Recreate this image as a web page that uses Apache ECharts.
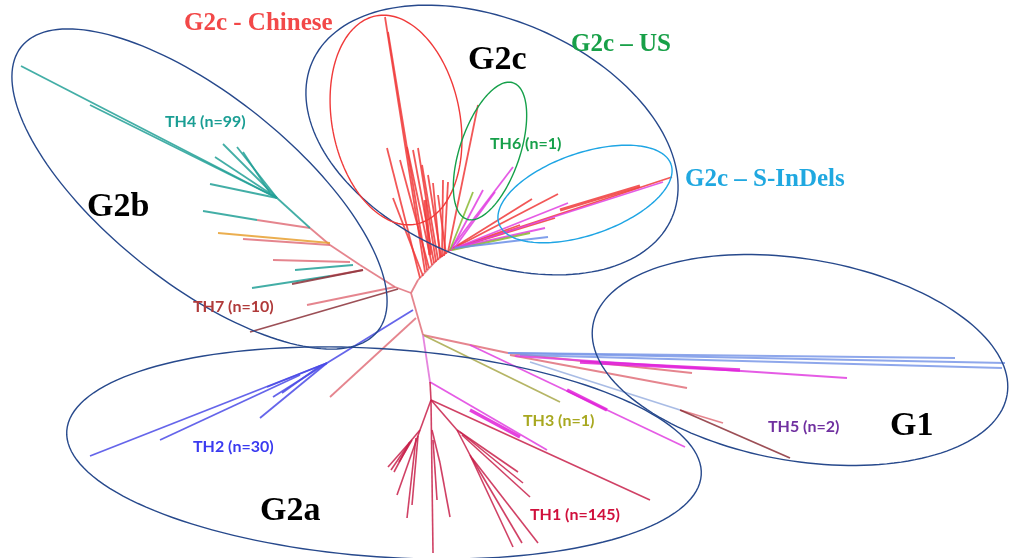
<!DOCTYPE html>
<html>
<head>
<meta charset="utf-8">
<script src="https://cdn.jsdelivr.net/npm/echarts@6/dist/echarts.min.js"></script>
<style>
  html, body { margin: 0; background: #fff; }
  #main { width: 1009px; height: 558px; }
</style>
</head>
<body>
<div id="main"></div>
<script>
// branch segments [x1, y1, x2, y2], grouped by clade colour
var trunk = [
    [411, 293, 395, 287], [395, 287, 360, 265], [360, 265, 330, 245], [330, 245, 310, 228],
    [411, 293, 418, 280], [418, 280, 437, 260], [437, 260, 450, 250],
    [411, 293, 423, 335], [416, 318, 330, 397], [423, 335, 508, 353],
    [395, 287, 307, 305], [350, 262, 273, 260], [330, 245, 243, 239], [310, 228, 257, 220],
    [363, 270, 330, 276], [508, 353, 692, 373], [510, 355, 687, 388],
    [680, 410, 723, 423]
];
var teal = [
    [310, 228, 277, 198], [277, 198, 21, 66], [277, 198, 90, 105], [277, 198, 223, 144],
    [277, 198, 237, 147], [277, 198, 215, 157], [270, 193, 243, 152], [277, 198, 210, 184],
    [257, 220, 203, 211], [330, 276, 252, 288], [353, 265, 295, 270]
];
var brown = [[398, 289, 250, 332], [363, 270, 292, 284], [680, 410, 790, 458]];
var orange = [[330, 243, 218, 233]];
var g2cRed = [
    [425, 272, 385, 17], [427, 270, 388, 32], [420, 278, 387, 148], [423, 276, 393, 198],
    [432, 265, 407, 147], [434, 263, 413, 150], [436, 262, 418, 148], [438, 260, 422, 165],
    [440, 258, 433, 183], [442, 257, 443, 180], [444, 256, 448, 182], [446, 254, 438, 195],
    [448, 252, 478, 105], [450, 250, 558, 194], [450, 250, 532, 199], [450, 250, 555, 218],
    [450, 250, 672, 177], [450, 250, 520, 225], [429, 268, 400, 160], [441, 257, 428, 175]
];
var g2cMagenta = [
    [450, 250, 513, 167], [452, 248, 483, 190], [455, 247, 495, 192],
    [450, 250, 663, 182], [450, 250, 568, 203], [455, 248, 545, 228]
];
var g2cGreen = [[450, 250, 473, 192], [452, 250, 530, 233]];
var g2cBlue = [[455, 248, 548, 237]];
var th2Blue = [
    [413, 310, 327, 363], [327, 363, 90, 456], [327, 363, 267, 387], [300, 375, 160, 440],
    [327, 363, 260, 418], [327, 363, 273, 397], [320, 366, 282, 393]
];
var g1Blue = [[508, 353, 955, 358], [508, 353, 1005, 363], [520, 355, 1002, 368]];
var lightBlue = [[530, 362, 680, 410]];
var magenta = [[470, 345, 685, 447], [515, 356, 847, 378], [430, 382, 547, 450]];
var olive = [[423, 335, 560, 402]];
var pinkTrunk = [[423, 335, 430, 382]];
var th1 = [
    [430, 382, 431, 400],
    [431, 400, 420, 430], [420, 430, 410, 442], [410, 442, 388, 467], [410, 442, 391, 470],
    [410, 442, 394, 472], [412, 440, 399, 462], [420, 430, 397, 495], [418, 436, 412, 505],
    [416, 438, 407, 518],
    [431, 400, 433, 553], [432, 430, 440, 463], [440, 463, 450, 517], [433, 440, 437, 500],
    [431, 400, 457, 430], [457, 430, 518, 472], [460, 432, 523, 483], [462, 435, 530, 497],
    [457, 430, 470, 455], [470, 455, 513, 547], [470, 455, 522, 543], [472, 458, 538, 543],
    [431, 400, 650, 500]
];
// heavier stretches where many tips overlap
var thickRed = [[560, 210, 640, 186], [425, 200, 430, 255]];
var thickMagenta = [[580, 362, 740, 370], [567, 390, 607, 410], [470, 410, 520, 437]];

// ellipses [cx, cy, semi-major, semi-minor, tilt in degrees]
var ellipses = [
    [199.5, 189, 228, 94, 38.6],
    [492, 140, 196, 120, 23.4],
    [396, 120, 106, 64, 79.2],
    [490, 151, 72, 30, -71.2],
    [585, 194, 91, 41, -19],
    [800, 360, 210, 101, 9.5],
    [384, 453, 318, 104, 4]
];
var ellipseColors = ['#27498c', '#27498c', '#f03a3a', '#15a04a', '#1ea5e4', '#27498c', '#27498c'];

var labelText = [
    'G2c - Chinese', 'G2c \u2013 US', 'G2c \u2013 S-InDels',
    'G2c', 'G2b', 'G2a', 'G1',
    'TH4 (n=99)', 'TH6 (n=1)', 'TH7 (n=10)', 'TH2 (n=30)', 'TH3 (n=1)', 'TH1 (n=145)', 'TH5 (n=2)'
];
var labelPos = [
    [184, 24], [571, 45], [685, 180],
    [468, 60], [87, 207], [260, 511], [890, 426],
    [165, 122], [490, 144], [193, 307], [193, 447], [523, 421], [530, 515], [768, 427]
];
var labelColors = [
    '#f24848', '#18a048', '#20a8e0',
    '#000', '#000', '#000', '#000',
    '#1a9e94', '#16a04a', '#b03a3a', '#3a3af0', '#a8a820', '#d0103c', '#7030a0'
];

var groups = [
    { data: trunk, color: '#e0707a', width: 1.8 },
    { data: teal, color: '#22a096', width: 1.8 },
    { data: brown, color: '#8b3038', width: 1.8 },
    { data: orange, color: '#e8a030', width: 1.8 },
    { data: g2cRed, color: '#f03a3a', width: 1.8 },
    { data: g2cMagenta, color: '#e040e0', width: 1.8 },
    { data: g2cGreen, color: '#88b830', width: 1.8 },
    { data: g2cBlue, color: '#6a8ee8', width: 1.8 },
    { data: th2Blue, color: '#4a4ae6', width: 1.8 },
    { data: g1Blue, color: '#7a98e8', width: 1.8 },
    { data: lightBlue, color: '#9ab0e0', width: 1.8 },
    { data: magenta, color: '#e040e0', width: 1.8 },
    { data: olive, color: '#a8a84a', width: 1.8 },
    { data: pinkTrunk, color: '#e070d8', width: 1.8 },
    { data: th1, color: '#c8204a', width: 1.6 },
    { data: thickRed, color: '#f03a3a', width: 3.2 },
    { data: thickMagenta, color: '#e020d8', width: 3.5 }
];

function toLines(segs) {
    return segs.map(function (s) {
        return { coords: [[s[0], s[1]], [s[2], s[3]]] };
    });
}

var series = groups.map(function (g) {
    return {
        type: 'lines',
        coordinateSystem: 'cartesian2d',
        silent: true,
        z: 2,
        data: toLines(g.data),
        lineStyle: { color: g.color, width: g.width, opacity: 0.85 }
    };
});

// the clade rings
series.push({
    type: 'custom',
    coordinateSystem: 'cartesian2d',
    silent: true,
    z: 3,
    data: ellipses,
    renderItem: function (params, api) {
        var cx = api.value(0), cy = api.value(1), a = api.value(2), b = api.value(3);
        var th = api.value(4) * Math.PI / 180;
        var pts = [];
        for (var i = 0; i <= 160; i++) {
            var t = i / 160 * Math.PI * 2;
            var x = cx + a * Math.cos(th) * Math.cos(t) - b * Math.sin(th) * Math.sin(t);
            var y = cy + a * Math.sin(th) * Math.cos(t) + b * Math.cos(th) * Math.sin(t);
            pts.push(api.coord([x, y]));
        }
        return {
            type: 'polyline',
            shape: { points: pts },
            style: { fill: 'none', stroke: ellipseColors[params.dataIndex], lineWidth: 1.4 }
        };
    }
});

// labels
series.push({
    type: 'custom',
    coordinateSystem: 'cartesian2d',
    silent: true,
    z: 4,
    data: labelPos,
    renderItem: function (params, api) {
        var i = params.dataIndex;
        var p = api.coord([api.value(0), api.value(1)]);
        var font;
        if (i < 3) font = 'bold 25px "Liberation Serif"';
        else if (i < 7) font = 'bold 34px "Liberation Serif"';
        else font = 'bold 16px Lato';
        return {
            type: 'text',
            x: p[0],
            y: p[1],
            style: {
                text: labelText[i],
                fill: labelColors[i],
                font: font,
                align: 'left',
                verticalAlign: 'middle'
            }
        };
    }
});

var chart = echarts.init(document.getElementById('main'));
chart.setOption({
    animation: false,
    backgroundColor: '#fff',
    grid: { left: 0, right: 0, top: 0, bottom: 0 },
    xAxis: { type: 'value', min: 0, max: 1009, show: false },
    yAxis: { type: 'value', min: 0, max: 558, inverse: true, show: false },
    series: series
});
</script>
</body>
</html>
